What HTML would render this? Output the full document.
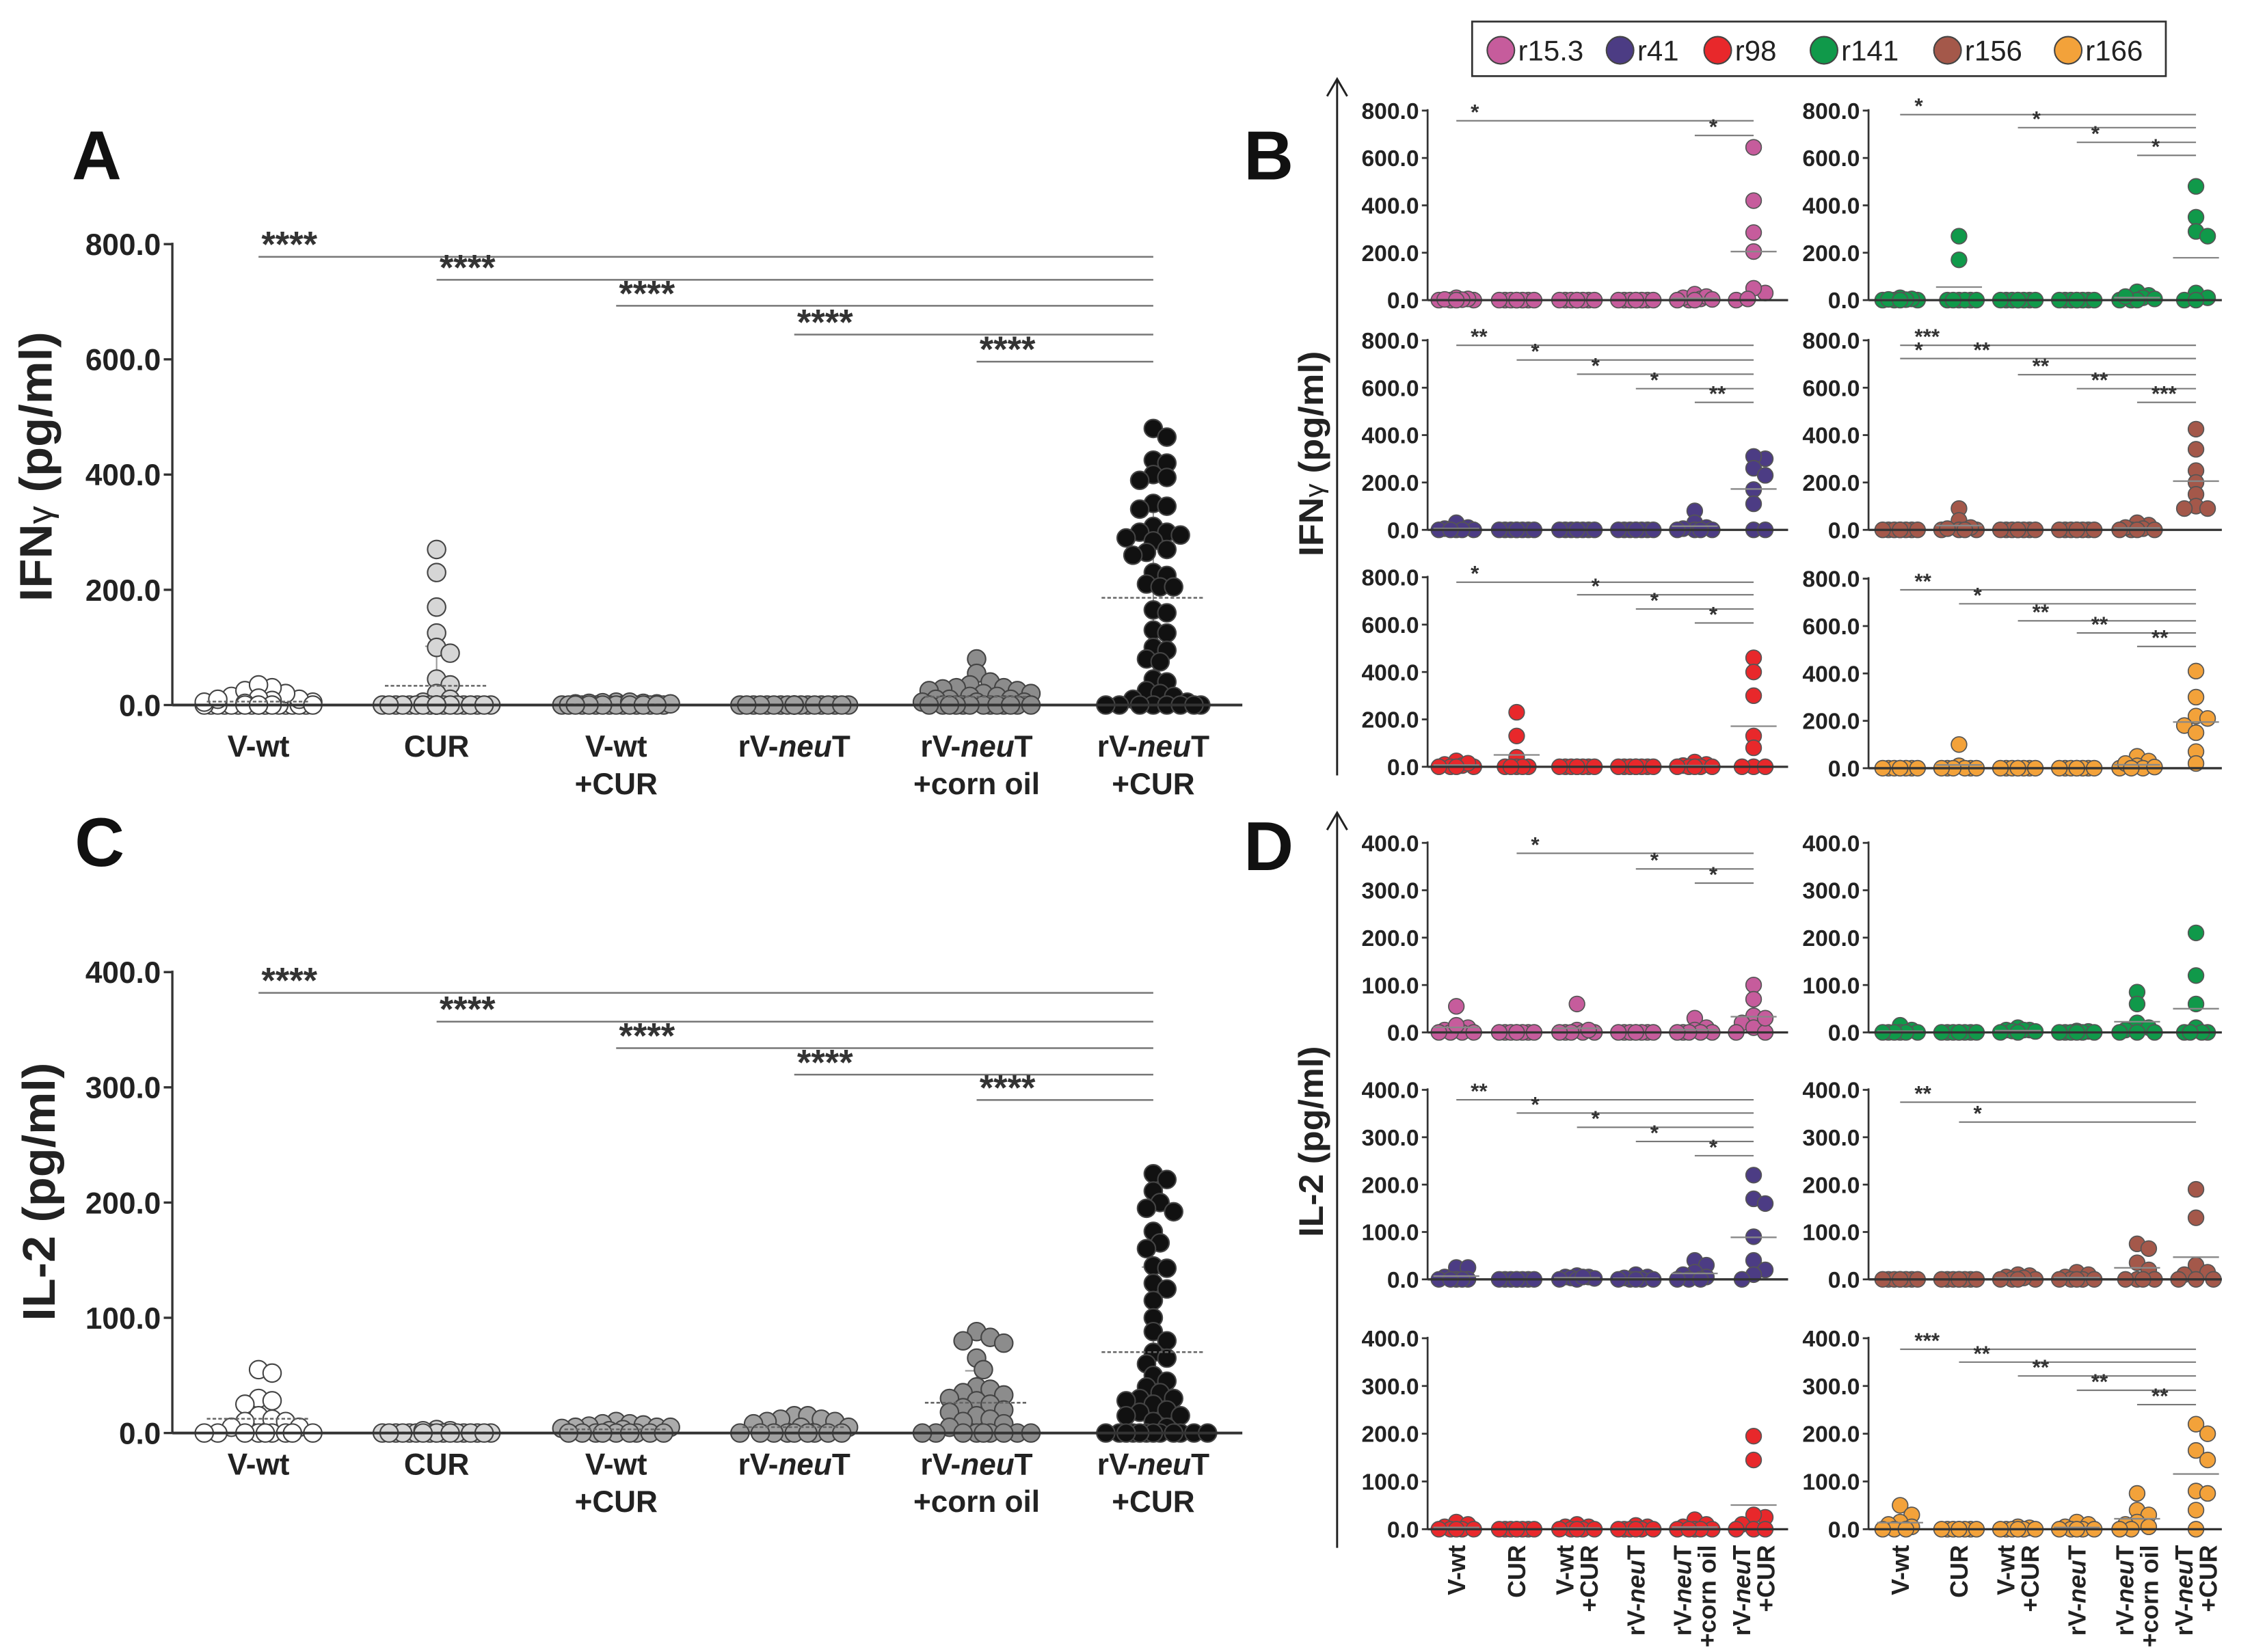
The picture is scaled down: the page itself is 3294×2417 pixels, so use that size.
<!DOCTYPE html>
<html><head><meta charset="utf-8"><style>
html,body{margin:0;padding:0;background:#fff;}
svg{display:block;}
text{font-family:"Liberation Sans Narrow","Liberation Sans",sans-serif;}
</style></head><body>
<svg id="fig" xmlns="http://www.w3.org/2000/svg" width="3294" height="2417" viewBox="0 0 1568 1150.5"></svg>
<script>
const groupLabels1 = ['V-wt','CUR','V-wt','rV-neuT','rV-neuT','rV-neuT'];
const groupLabels2 = ['','','+CUR','','+corn oil','+CUR'];
const ticksA = [0,200,400,600,800];
const ticksC = [0,100,200,300,400];
const ifnA_vwt = [0,0,0,0,0,0,0,0,0,0,0,0,5,10,15,20,25,30,35,8,12,3,0,0,0,0,5,0,10,0];
const ifnA_cur = [270,230,170,125,100,90,45,35,20,10,5,0,0,0,0,0,0,0,0,0,0,0,0,0,0,0,0,0,0,0,0,0,0];
const ifnA_vwtcur = [0,2,5,3,0,0,4,0,0,2,0,0,3,0,0,0,5,0,0,0,2,0,0,0];
const ifnA_neut = [0,0,0,0,0,0,0,0,0,0,0,0,0,0,0,0,0,0,0,0,0,0];
const ifnA_corn = [80,55,40,35,30,30,28,25,25,20,20,15,15,10,10,10,5,5,5,0,0,0,0,0,0,0,0,0,0,0,0,0];
const ifnA_cur2 = [480,465,425,420,400,395,390,350,345,340,310,300,300,295,290,285,270,265,260,230,225,210,205,205,165,160,130,125,100,95,80,75,45,40,25,20,15,10,5,0,0,0,0,0,0,0,0];
const il2C_vwt = [55,52,30,28,25,15,12,10,10,5,5,0,0,0,0,0,0,0,0,0];
const il2C_cur = [3,2,0,0,0,0,0,0,0,0,0,0,2,0,0,0,0,0,0,0];
const il2C_vwtcur = [10,8,8,7,6,5,5,5,4,3,2,0,0,0,0,0,0,0,0,0];
const il2C_neut = [15,15,12,12,10,10,8,5,5,0,0,0,0,0,0,0,0,0];
const il2C_corn = [88,83,80,78,65,55,40,38,35,33,30,28,25,22,20,18,15,12,10,8,5,0,0,0,0,0,0,0,0,0];
const il2C_cur2 = [225,220,210,200,195,192,175,165,160,145,143,130,125,115,100,88,80,70,65,60,50,45,40,35,30,30,28,25,20,18,15,15,10,5,0,0,0,0,0,0,0,0,0,0,0,0];
const Z = [0,0,0,0,0,0,0,0];
const ifn_r153 = [[0,5,10,0,2,0,3,0],Z,Z,Z,[0,10,25,5,0,15,0,3],[645,420,285,205,30,50,0,5]];
const ifn_r141 = [[0,5,10,0,0,3,2,0],[270,170,0,0,0,0,0,0],Z,Z,[0,20,35,10,0,5,0,15],[480,350,290,270,30,10,0,0]];
const ifn_r41 = [[0,30,10,0,5,0,0,0],Z,Z,Z,[80,30,10,0,0,5,0,0],[300,310,260,230,170,110,0,0]];
const ifn_r156 = [Z,[90,40,0,0,0,10,5,0],Z,Z,[20,30,5,0,0,10,0,0],[425,340,250,200,150,100,90,90]];
const ifn_r98 = [[10,25,0,5,0,0,15,0],[230,130,40,0,0,0,0,0],Z,Z,[10,20,0,0,5,0,0,0],[460,400,300,130,80,0,0,0]];
const ifn_r166 = [Z,[100,10,0,0,0,0,0,0],Z,Z,[50,30,10,0,0,20,5,0],[410,300,220,210,180,150,70,20]];
const il2_r153 = [[55,10,5,0,0,0,15,0],Z,[60,5,0,0,0,0,5,0],Z,[30,10,0,0,5,0,0,0],[100,70,35,20,10,0,0,30]];
const il2_r141 = [[15,5,0,0,0,0,0,0],Z,[5,10,5,5,3,2,0,0],[3,2,0,0,0,0,0,0],[85,60,20,10,5,0,0,0],[210,120,60,10,0,0,0,0]];
const il2_r41 = [[25,25,5,0,0,0,0,0],Z,[5,5,8,3,0,2,0,5],[10,5,0,0,0,3,0,0],[40,30,15,10,5,0,0,0],[220,170,160,90,40,20,10,0]];
const il2_r156 = [Z,Z,[10,5,8,0,0,0,3,0],[15,10,5,0,0,0,0,0],[75,65,35,20,0,0,0,0],[190,130,30,15,10,0,0,0]];
const il2_r98 = [[15,10,5,0,0,0,0,0],Z,[10,5,5,0,0,0,0,0],[8,5,0,0,0,0,0,0],[20,10,5,0,0,0,0,0],[195,145,25,30,10,0,0,0]];
const il2_r166 = [[50,30,15,10,5,0,0,0],Z,[5,3,0,0,0,0,0,0],[15,10,5,0,0,0,0,0],[75,40,30,15,10,5,0,0],[220,200,165,145,80,75,40,0]];
const sigA = [[0,5,778,'****'],[1,5,738,'****'],[2,5,693,'****'],[3,5,643,'****'],[4,5,596,'****']];
const sigC = [[0,5,382,'****'],[1,5,357,'****'],[2,5,334,'****'],[3,5,311,'****'],[4,5,289,'****']];
const sig_ifn_r153 = [[0,5,757,'*'],[4,5,695,'*']];
const sig_ifn_r141 = [[0,5,783,'*'],[2,5,728,'*'],[3,5,666,'*'],[4,5,611,'*']];
const sig_ifn_r41 = [[0,5,779,'**'],[1,5,717,'*'],[2,5,657,'*'],[3,5,596,'*'],[4,5,538,'**']];
const sig_ifn_r156 = [[0,5,779,'***'],[0,1,723,'*'],[1,5,723,'**'],[2,5,655,'**'],[3,5,596,'**'],[4,5,538,'***']];
const sig_ifn_r98 = [[0,5,779,'*'],[2,5,726,'*'],[3,5,666,'*'],[4,5,607,'*']];
const sig_ifn_r166 = [[0,5,753,'**'],[1,5,694,'*'],[2,5,622,'**'],[3,5,571,'**'],[4,5,514,'**']];
const sig_il2_r153 = [[1,5,378,'*'],[3,5,345,'*'],[4,5,315,'*']];
const sig_il2_r141 = [];
const sig_il2_r41 = [[0,5,379,'**'],[1,5,351,'*'],[2,5,321,'*'],[3,5,291,'*'],[4,5,261,'*']];
const sig_il2_r156 = [[0,5,374,'**'],[1,5,332,'*']];
const sig_il2_r98 = [];
const sig_il2_r166 = [[0,5,377,'***'],[1,5,350,'**'],[2,5,321,'**'],[3,5,291,'**'],[4,5,261,'**']];
const legendNames = ['r15.3','r41','r98','r141','r156','r166'];
const legendColors = ['#c65c9c','#4c3c84','#e8282b','#10994a','#a4584a','#f3a23a'];

const NS='http://www.w3.org/2000/svg';
const svg=document.getElementById('fig');
function mk(tag,attrs,parent){const e=document.createElementNS(NS,tag);for(const k in attrs)e.setAttribute(k,attrs[k]);(parent||svg).appendChild(e);return e;}
function txt(s,attrs,parent){const e=mk('text',attrs,parent);e.textContent=s;return e;}
function addLabel(parent,s,attrs){
  const t=mk('text',attrs,parent);
  const i=s.indexOf('neu');
  if(i<0){t.textContent=s;}else{
    const a=mk('tspan',{},t);a.textContent=s.slice(0,i);
    const b=mk('tspan',{'font-style':'italic'},t);b.textContent='neu';
    const c=mk('tspan',{},t);c.textContent=s.slice(i+3);
  }
  return t;
}
function swarm(vals,yf,r,W,sep){
  const order=vals.map((v,i)=>i).sort((a,b)=>vals[b]-vals[a]);
  const placed=[];const out=new Array(vals.length);
  for(const i of order){
    const y=yf(vals[i]);let best=null,bestD=-1;
    for(let k=0;k<40;k++){
      const off=(k%2?1:-1)*Math.ceil(k/2)*r*0.75;
      if(Math.abs(off)>W)break;
      let md=1e9;for(const p of placed){const d=Math.hypot(p[0]-off,p[1]-y);if(d<md)md=d;}
      if(md>=2*r*sep){best=off;bestD=md;break;}
      if(md>bestD){bestD=md;best=off;}
    }
    placed.push([best,y]);out[i]=[best,y];
  }
  return out;
}
function panel(o){
  const g=mk('g',{});
  
  
  const yf=v=>o.y0-(v/o.max)*(o.y0-o.yTop);
  const ya=mk('line',{x1:o.ax,y1:o.y0,x2:o.ax,y2:o.yTop-1,stroke:'#333','stroke-width':o.lw},g);
  
  
  o.ticks.forEach(t=>{
    const y=yf(t);
    mk('line',{x1:o.ax-o.tk,y1:y,x2:o.ax,y2:y,stroke:'#333','stroke-width':o.lw},g);
    const tl=txt(t.toFixed(1),{x:o.ax-o.tk-2,y:y+o.fs*0.36,'font-size':o.fs,'font-weight':'bold','text-anchor':'end',fill:'#222'},g);
    
    
  });
  o.sig.forEach(s=>{
    const y=yf(s[2]);const x1=o.cx[s[0]],x2=o.cx[s[1]];
    const l=mk('line',{x1:x1,y1:y,x2:x2,y2:y,stroke:'#777','stroke-width':o.sigW},g);
    
    
    const st=txt(s[3],{x:x1+o.starDx,y:y+o.starDy,'font-size':o.starFs,'font-weight':'bold',fill:'#333'},g);
    
    
  });
  o.data.forEach((vals,gi)=>{
    const cx=o.cx[gi];
    const pos=swarm(vals,yf,o.r,o.W,o.sep);
    const mean=vals.reduce((a,b)=>a+b,0)/vals.length;
    if(o.dashed){
      const sd=Math.sqrt(vals.reduce((a,b)=>a+(b-mean)*(b-mean),0)/vals.length);
      if(mean>8){mk('line',{x1:cx,y1:yf(Math.max(0,mean-sd)),x2:cx,y2:yf(mean+sd),stroke:'#999','stroke-width':1},g);
      mk('line',{x1:cx-8,y1:yf(mean+sd),x2:cx+8,y2:yf(mean+sd),stroke:'#999','stroke-width':1},g);}
    }
    vals.forEach((v,i)=>{
      const c=mk('circle',{cx:cx+pos[i][0],cy:pos[i][1],r:o.r,fill:o.fill[gi],stroke:o.stroke,'stroke-width':o.sw},g);
      
      
    });
    const ml=mk('line',{x1:cx-o.mw,y1:yf(mean),x2:cx+o.mw,y2:yf(mean),stroke:o.dashed?'#666':'#888','stroke-width':o.dashed?1.2:1.1,'stroke-dasharray':o.dashed?'2.5,1.5':'none'},g);
    
    
  });
  const xa=mk('line',{x1:o.ax,y1:o.y0,x2:o.xEnd,y2:o.y0,stroke:'#333','stroke-width':o.lw*1.2},g);
  
  
  return g;
}
const cxMain=[180,304,429,553,680,803];
const greyFills=['#ffffff','#d6d6d6','#ababab','#a0a0a0','#8c8c8c','#111111'];
const mainCommon={ax:120,xEnd:865,cx:cxMain,tk:6,lw:1.6,fs:21,r:6.3,W:40,sep:0.7,stroke:'#444',sw:1,fill:greyFills,mw:36,dashed:true,sigW:1.2,starDx:2,starDy:0,starFs:25};
panel(Object.assign({},mainCommon,{name:'panel-a-ifn-gamma',y0:491,yTop:170,max:800,ticks:ticksA,data:[ifnA_vwt,ifnA_cur,ifnA_vwtcur,ifnA_neut,ifnA_corn,ifnA_cur2],sig:sigA}));
panel(Object.assign({},mainCommon,{name:'panel-c-il2',y0:998,yTop:677,max:400,ticks:ticksC,data:[il2C_vwt,il2C_cur,il2C_vwtcur,il2C_neut,il2C_corn,il2C_cur2],sig:sigC}));
[[527,553],[1027,1053]].forEach((ys)=>{
  cxMain.forEach((c,i)=>{
    const a=addLabel(svg,groupLabels1[i],{x:c,y:ys[0],'font-size':21,'font-weight':'bold','text-anchor':'middle',fill:'#222'});
    
    
    if(groupLabels2[i]){const b=addLabel(svg,groupLabels2[i],{x:c,y:ys[1],'font-size':21,'font-weight':'bold','text-anchor':'middle',fill:'#222'});
    
    }
  });
});
const cxL=[1014,1056,1098,1139,1180,1221], cxR=[1323,1364,1405,1446,1488,1529];
const small={tk:4,lw:1.3,fs:16,r:5.4,W:13,sep:0.75,stroke:'#555',sw:0.8,mw:16,dashed:false,sigW:1,starDx:10,starDy:-1,starFs:15};
function sp(name,col,y0,yTop,max,ticks,data,sig,color){
  const left=col===0;
  panel(Object.assign({},small,{name:name,ax:left?994:1301,xEnd:left?1245:1547,cx:left?cxL:cxR,y0:y0,yTop:yTop,max:max,ticks:ticks,data:data,sig:sig,fill:[color,color,color,color,color,color]}));
}
const tB=[0,200,400,600,800], tD=[0,100,200,300,400];
sp('ifn-r15-3',0,209,77,800,tB,ifn_r153,sig_ifn_r153,legendColors[0]);
sp('ifn-r141',1,209,77,800,tB,ifn_r141,sig_ifn_r141,legendColors[3]);
sp('ifn-r41',0,369,237,800,tB,ifn_r41,sig_ifn_r41,legendColors[1]);
sp('ifn-r156',1,369,237,800,tB,ifn_r156,sig_ifn_r156,legendColors[4]);
sp('ifn-r98',0,534,402,800,tB,ifn_r98,sig_ifn_r98,legendColors[2]);
sp('ifn-r166',1,535,403,800,tB,ifn_r166,sig_ifn_r166,legendColors[5]);
sp('il2-r15-3',0,719,587,400,tD,il2_r153,sig_il2_r153,legendColors[0]);
sp('il2-r141',1,719,587,400,tD,il2_r141,sig_il2_r141,legendColors[3]);
sp('il2-r41',0,891,759,400,tD,il2_r41,sig_il2_r41,legendColors[1]);
sp('il2-r156',1,891,759,400,tD,il2_r156,sig_il2_r156,legendColors[4]);
sp('il2-r98',0,1065,932,400,tD,il2_r98,sig_il2_r98,legendColors[2]);
sp('il2-r166',1,1065,932,400,tD,il2_r166,sig_il2_r166,legendColors[5]);
[cxL,cxR].forEach(cxs=>{
  cxs.forEach((c,i)=>{
    const two=!!groupLabels2[i];
    const xs=two?[c-8.5+6,c+8.5+6]:[c+6];
    const l1=addLabel(svg,groupLabels1[i],{x:0,y:0,'font-size':17,'font-weight':'bold','text-anchor':'end',fill:'#222',transform:`translate(${xs[0]},1076) rotate(-90)`,'font-family':'Liberation Sans, sans-serif'});
    
    
    if(two){const l2=addLabel(svg,groupLabels2[i],{x:0,y:0,'font-size':17,'font-weight':'bold','text-anchor':'end',fill:'#222',transform:`translate(${xs[1]},1076) rotate(-90)`,'font-family':'Liberation Sans, sans-serif'});
    
    }
  });
});
[[540,55],[1078,566]].forEach(a=>{
  const g=mk('g',{});
  
  
  mk('line',{x1:931,y1:a[0],x2:931,y2:a[1],stroke:'#222','stroke-width':1.4},g);
  mk('polyline',{points:`924,${a[1]+12} 931,${a[1]} 938,${a[1]+12}`,fill:'none',stroke:'#222','stroke-width':1.4},g);
});
function ytitle(s,x,y,len,fs,name){
  const t=mk('text',{x:0,y:0,transform:`translate(${x},${y}) rotate(-90)`,'text-anchor':'middle','font-size':fs,'font-weight':'bold',fill:'#222','font-family':'Liberation Sans, sans-serif',textLength:len,lengthAdjust:'spacingAndGlyphs'});
  const gi=s.indexOf('γ');
  if(gi<0)t.textContent=s;else{
    const a=mk('tspan',{},t);a.textContent=s.slice(0,gi);
    const b=mk('tspan',{'font-weight':'normal','font-size':fs*0.75},t);b.textContent='γ';
    const c=mk('tspan',{},t);c.textContent=s.slice(gi+1);
  }
  
  
}
ytitle('IFNγ (pg/ml)',36,325,188,32,'y-axis-title-a');
ytitle('IL-2 (pg/ml)',38,830,180,32,'y-axis-title-c');
ytitle('IFNγ (pg/ml)',921,316,143,24,'y-axis-title-b');
ytitle('IL-2 (pg/ml)',921,795,133,24,'y-axis-title-d');
[['A',50,125],['B',866,125],['C',52,603],['D',866,606]].forEach(p=>{
  const t=txt(p[0],{x:p[1],y:p[2],'font-size':48,'font-weight':'bold',fill:'#111','font-family':'Liberation Sans, sans-serif'});
  
  
});
const lg=mk('g',{});


mk('rect',{x:1025,y:15,width:483,height:38,fill:'#fff',stroke:'#333','stroke-width':1.3},lg);
const lgx=[1045,1128,1196,1270,1356,1440];
legendNames.forEach((n,i)=>{
  const e=mk('g',{},lg);
  
  
  mk('circle',{cx:lgx[i],cy:35,r:9.5,fill:legendColors[i],stroke:'#444','stroke-width':1},e);
  txt(n,{x:lgx[i]+12,y:42,'font-size':20,fill:'#222','font-family':'Liberation Sans, sans-serif'},e);
});
</script>
</body></html>
